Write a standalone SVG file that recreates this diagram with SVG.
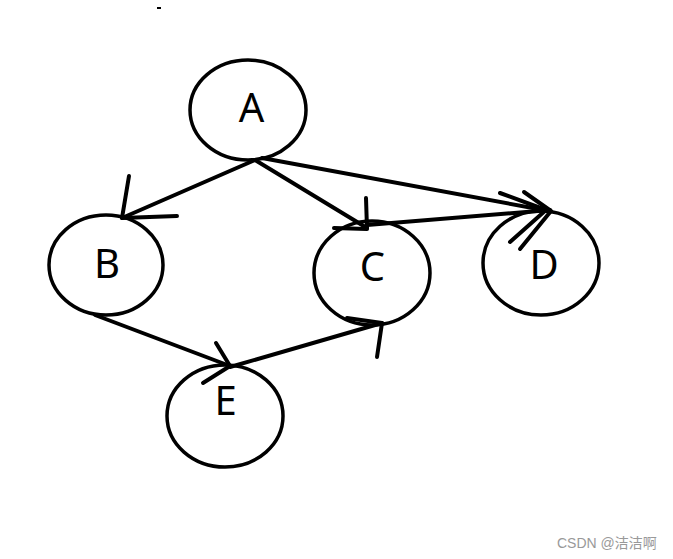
<svg xmlns="http://www.w3.org/2000/svg" width="673" height="559" viewBox="0 0 673 559">
<style>
.node ellipse{fill:none;stroke:#000;stroke-width:3.5}
.node text{font-family:"Noto Sans","Open Sans","DejaVu Sans",sans-serif;font-size:40px;fill:#000;text-anchor:middle}
#edges line,#edges polyline{fill:none;stroke:#000;stroke-width:4;stroke-linecap:round;stroke-linejoin:round}
.wm{font-family:"Liberation Sans","Noto Sans CJK SC",sans-serif;font-size:14px;fill:#999}
</style>
<rect width="673" height="559" fill="#fff"/>
<rect x="157" y="7" width="4" height="2" fill="#000"/>
<g id="edges">
<line x1="255" y1="160" x2="122" y2="218"/>
<polyline points="129,176 122,218 177,216"/>
<line x1="255" y1="160" x2="367" y2="228"/>
<polyline points="366,198 367,229 334,228"/>
<line x1="262" y1="158" x2="549" y2="211"/>
<line x1="367" y1="225" x2="550" y2="210"/>
<polyline points="500,193 546,210 510,242"/>
<polyline points="524,192 551,211 520,249"/>
<line x1="95" y1="315" x2="230" y2="366"/>
<polyline points="216,343 230,366 203,383"/>
<line x1="230" y1="367" x2="382" y2="323"/>
<polyline points="347,318 382,323 377,357"/>
</g>
<g id="A" class="node"><ellipse cx="248" cy="110" rx="58" ry="50"/><text x="251.5" y="122">A</text></g>
<g id="B" class="node"><ellipse cx="106" cy="265" rx="57" ry="50"/><text x="107" y="278">B</text></g>
<g id="C" class="node"><ellipse cx="372" cy="273" rx="58" ry="52"/><text x="372.5" y="281">C</text></g>
<g id="D" class="node"><ellipse cx="541" cy="263" rx="58" ry="52"/><text x="544" y="279">D</text></g>
<g id="E" class="node"><ellipse cx="225" cy="416" rx="58" ry="51"/><text x="225.5" y="415">E</text></g>
<text class="wm" x="557" y="548">CSDN @洁洁啊</text>
</svg>
